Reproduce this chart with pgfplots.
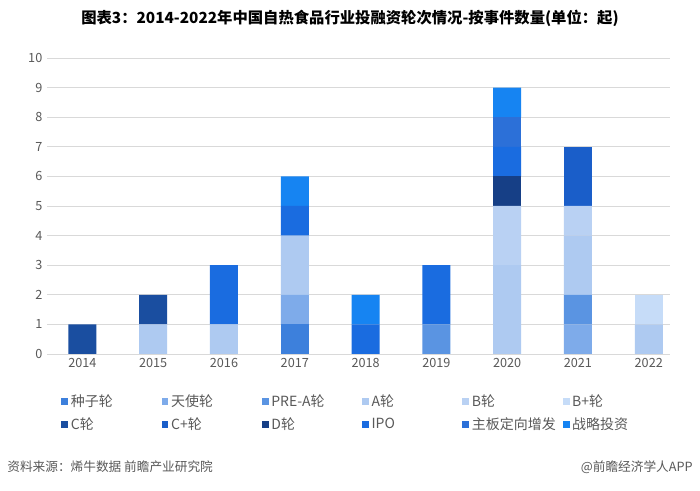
\documentclass[border=0pt]{standalone}
\usepackage{fontspec}
\setmainfont{Noto Sans CJK SC}
\usepackage{pgfplots}
\usepackage{pgfplotstable}
\pgfplotsset{compat=1.18}

\definecolor{cSeed}{HTML}{3D80DC}
\definecolor{cAngel}{HTML}{7EABEA}
\definecolor{cPreA}{HTML}{5A94E2}
\definecolor{cA}{HTML}{AECAF1}
\definecolor{cB}{HTML}{B9D1F3}
\definecolor{cBp}{HTML}{C6DCF8}
\definecolor{cC}{HTML}{1A4EA0}
\definecolor{cCp}{HTML}{1A5EC9}
\definecolor{cD}{HTML}{163F86}
\definecolor{cIPO}{HTML}{1A6CE0}
\definecolor{cZB}{HTML}{2C70D8}
\definecolor{cZL}{HTML}{1684F2}
\definecolor{txtgray}{HTML}{595959}
\definecolor{gridgray}{HTML}{D9D9D9}

% years 2014..2022 at x = 0..8
\pgfplotstableread{
x seed angel prea a b bp c cp d ipo zb zl
0 0 0 0 0 0 0 1 0 0 0 0 0
1 0 0 0 1 0 0 1 0 0 0 0 0
2 0 0 0 1 0 0 0 0 0 2 0 0
3 1 1 0 2 0 0 0 0 0 1 0 1
4 0 0 0 0 0 0 0 0 0 1 0 1
5 0 0 1 0 0 0 0 0 0 2 0 0
6 0 0 0 3 2 0 0 0 1 1 1 1
7 0 1 1 2 1 0 0 2 0 0 0 0
8 0 0 0 1 0 1 0 0 0 0 0 0
}\rounds

\newcommand{\lent}[1]{\makebox[66pt][l]{#1}}

\begin{document}
\begin{tikzpicture}
\path[use as bounding box] (0,0) rectangle (525pt,368.25pt);
\fill[white] (0,0) rectangle (525pt,368.25pt);

\node[font=\fontsize{11.5}{14}\selectfont\bfseries] at (262.5pt,354.75pt)
  {图表3：2014-2022年中国自热食品行业投融资轮次情况-按事件数量(单位：起)};

\begin{axis}[
  at={(35.25pt,102.75pt)}, anchor=south west,
  scale only axis,
  width=467.25pt, height=222pt,
  ybar stacked,
  bar width=21pt,
  xmin=-0.5, xmax=8.3,
  ymin=0, ymax=10,
  ytick={0,1,...,10},
  xtick={0,...,8},
  xticklabels={2014,2015,2016,2017,2018,2019,2020,2021,2022},
  ymajorgrids,
  grid style={gridgray, line width=0.6pt},
  axis line style={draw=none},
  major tick length=0pt,
  tick label style={font=\fontsize{9.5}{11}\selectfont, text=txtgray},
  /pgf/number format/assume math mode=true,
  legend columns=6,
  legend image code/.code={\fill[#1] (0pt,-2.6pt) rectangle (5.2pt,2.6pt);},
  legend style={
    at={(axis description cs:0.016,-0.118)}, anchor=north west,
    draw=none, fill=none,
    font=\fontsize{10.5}{12}\selectfont,
    text=txtgray,
    row sep=3pt,
    /tikz/every even column/.append style={column sep=0pt},
  },
  legend cell align=left,
  every axis plot/.append style={draw=none},
]
\addplot[fill=cSeed] table[x=x,y=seed] {\rounds};
\addlegendentry{\lent{种子轮}}
\addplot[fill=cAngel] table[x=x,y=angel] {\rounds};
\addlegendentry{\lent{天使轮}}
\addplot[fill=cPreA] table[x=x,y=prea] {\rounds};
\addlegendentry{\lent{PRE-A轮}}
\addplot[fill=cA] table[x=x,y=a] {\rounds};
\addlegendentry{\lent{A轮}}
\addplot[fill=cB] table[x=x,y=b] {\rounds};
\addlegendentry{\lent{B轮}}
\addplot[fill=cBp] table[x=x,y=bp] {\rounds};
\addlegendentry{\lent{B+轮}}
\addplot[fill=cC] table[x=x,y=c] {\rounds};
\addlegendentry{\lent{C轮}}
\addplot[fill=cCp] table[x=x,y=cp] {\rounds};
\addlegendentry{\lent{C+轮}}
\addplot[fill=cD] table[x=x,y=d] {\rounds};
\addlegendentry{\lent{D轮}}
\addplot[fill=cIPO] table[x=x,y=ipo] {\rounds};
\addlegendentry{\lent{IPO}}
\addplot[fill=cZB] table[x=x,y=zb] {\rounds};
\addlegendentry{\lent{主板定向增发}}
\addplot[fill=cZL] table[x=x,y=zl] {\rounds};
\addlegendentry{\lent{战略投资}}
\end{axis}

\node[anchor=west, font=\fontsize{9.5}{11}\selectfont, text=txtgray] at (2pt,18pt)
  {资料来源：烯牛数据 前瞻产业研究院};
\node[anchor=east, font=\fontsize{9.5}{11}\selectfont, text=txtgray] at (523pt,18pt)
  {@前瞻经济学人APP};
\end{tikzpicture}
\end{document}
